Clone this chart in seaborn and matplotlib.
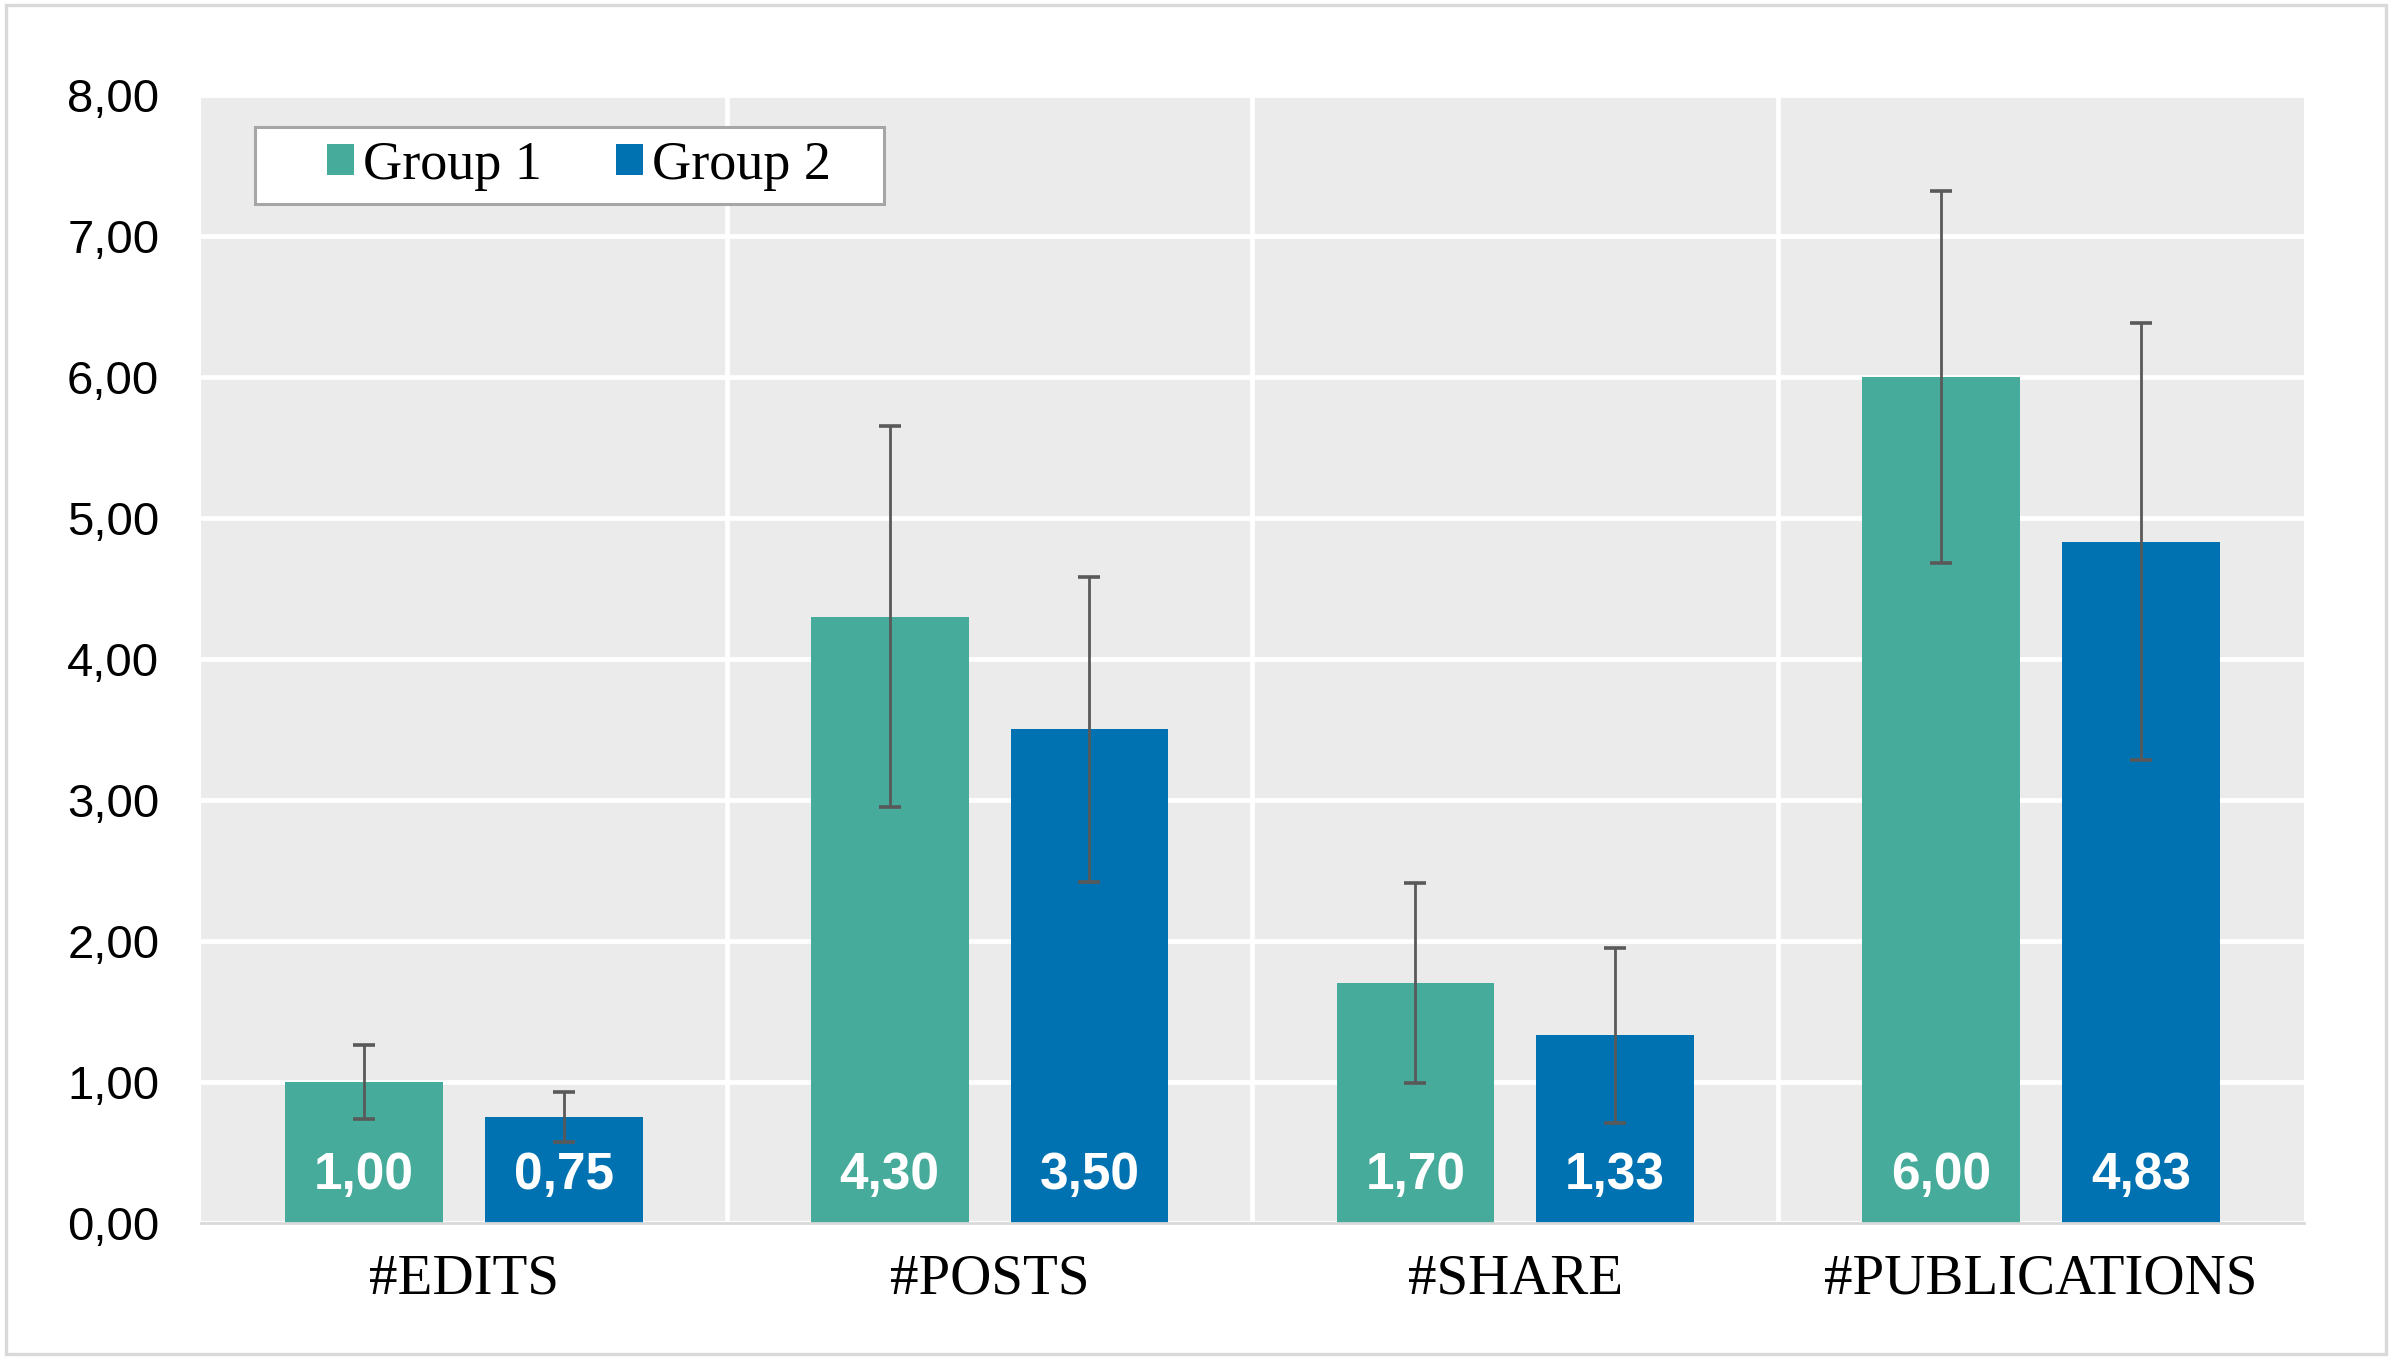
import matplotlib
matplotlib.use("Agg")
import matplotlib.pyplot as plt
import matplotlib.ticker as mticker
from matplotlib.patches import Rectangle
import pandas as pd
import seaborn as sns

# Werte
metrics = ["#EDITS", "#POSTS", "#SHARE", "#PUBLICATIONS"]
groups = ["Group 1", "Group 2"]
group1_mean = [1.00, 4.30, 1.70, 6.00]
group2_mean = [0.75, 3.50, 1.33, 4.83]
group1_err = [0.26, 1.35, 0.71, 1.32]
group2_err = [0.18, 1.08, 0.62, 1.55]
colors = ["#46AB9A", "#0072B2"]

df = pd.DataFrame({
    "metric": metrics * 2,
    "group": [groups[0]] * 4 + [groups[1]] * 4,
    "mean": group1_mean + group2_mean,
})

sns.set_style("darkgrid", {"axes.facecolor": "#EBEBEB", "grid.color": "white",
                           "text.color": "black", "xtick.color": "black",
                           "ytick.color": "black"})
plt.rcParams["font.family"] = ["Liberation Sans", "DejaVu Sans"]

fig = plt.figure(figsize=(11.96, 6.805), dpi=200)
ax = fig.add_axes([0.084, 0.1015, 0.8792, 0.8287])

sns.barplot(data=df, x="metric", y="mean", hue="group", palette=colors,
            width=0.76, gap=0.21, errorbar=None, saturation=1, ax=ax,
            edgecolor="none", zorder=2)

def fmt(v):
    return f"{v:.2f}".replace(".", ",")

# Fehlerbalken und Werte in den Balken
for bars, errs, means in zip(ax.containers, [group1_err, group2_err], [group1_mean, group2_mean]):
    xs = [b.get_x() + b.get_width() / 2 for b in bars]
    ax.errorbar(xs, means, yerr=errs, fmt="none", ecolor="#595959",
                elinewidth=1.0, capsize=3.8, capthick=1.3, zorder=3)
    for x, m in zip(xs, means):
        ax.annotate(fmt(m), xy=(x, 0), xytext=(0, 17.0), textcoords="offset points",
                    ha="center", va="center", color="white", fontsize=18.5,
                    fontweight="bold", zorder=4)

ax.set_ylim(0, 8)
ax.set_yticks(range(0, 9))
ax.yaxis.set_major_formatter(mticker.FuncFormatter(lambda v, p: fmt(v)))
ax.set_xlim(-0.5, 3.5)
ax.set_xticks([0.5, 1.5, 2.5], minor=True)
ax.grid(False)
ax.grid(True, axis="y", which="major", color="white", linewidth=1.7, zorder=0)
ax.grid(True, axis="x", which="minor", color="white", linewidth=1.7, zorder=0)
ax.set_axisbelow(True)
ax.tick_params(axis="both", which="both", length=0, labelcolor="black")
ax.tick_params(axis="y", labelsize=17, pad=15)
ax.tick_params(axis="x", pad=11)
for lab in ax.get_xticklabels():
    lab.set_fontfamily(["Liberation Serif", "DejaVu Serif"])
    lab.set_fontsize(20.5)
ax.set_xlabel("")
ax.set_ylabel("")
for side in ["left", "right", "top"]:
    ax.spines[side].set_visible(False)
ax.spines["bottom"].set_visible(True)
ax.spines["bottom"].set_color("#D9D9D9")
ax.spines["bottom"].set_linewidth(1.0)

# Legende
handles, labels = ax.get_legend_handles_labels()
if ax.get_legend():
    ax.get_legend().remove()
leg = ax.legend(handles, labels, ncol=2, loc="center left",
                bbox_to_anchor=(0.0599, 0.9375), borderaxespad=0, borderpad=0,
                frameon=False, handlelength=0.5, handleheight=0.5,
                handletextpad=0.17, columnspacing=1.36,
                prop={"family": ["Liberation Serif", "DejaVu Serif"], "size": 19.5})
leg.set_zorder(6)
for t in leg.get_texts():
    t.set_color("black")

fig.canvas.draw()
bb = leg.get_window_extent(fig.canvas.get_renderer())
cy = (bb.y0 + bb.y1) / 2
inv = ax.transAxes.inverted()
(x0, y0) = inv.transform((bb.x0 - 72, cy - 38.5))
(x1, y1) = inv.transform((bb.x1 + 53, cy + 38.5))
ax.add_patch(Rectangle((x0, y0), x1 - x0, y1 - y0, transform=ax.transAxes,
                       facecolor="white", edgecolor="#A6A6A6", linewidth=1.1,
                       clip_on=False, zorder=5))

# Rahmen um die ganze Grafik
fig.add_artist(Rectangle((0.0025, 0.005), 0.995, 0.991, transform=fig.transFigure,
                         fill=False, edgecolor="#D9D9D9", linewidth=1.2))

fig.savefig("out.png", dpi=200, facecolor="white")
